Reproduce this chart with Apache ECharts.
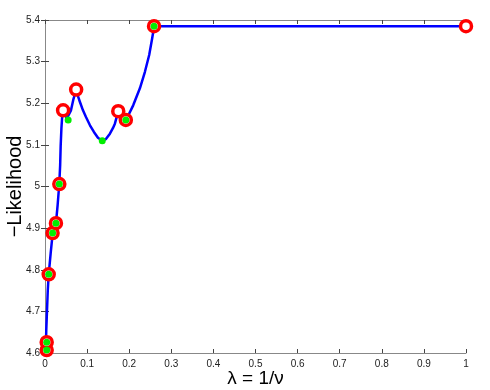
<!DOCTYPE html>
<html><head><meta charset="utf-8">
<script src="https://cdn.jsdelivr.net/npm/echarts@6/dist/echarts.min.js"></script>
<style>html,body{margin:0;padding:0;background:#fff}#c{width:490px;height:390px}</style>
</head><body><div id="c"></div>
<script>
// Curve (lambda, -likelihood)
var curveX = [0.0012,0.0024,0.003,0.0047,0.0066,0.0088,0.0135,0.0183,0.0261,0.030,0.0339,0.036,0.0372,0.039,0.041,0.0434,0.0474,0.0515,0.0558,0.0617,0.0676,0.0743,0.0783,0.083,0.0902,0.0973,0.1068,0.1162,0.1257,0.136,0.1447,0.1542,0.1613,0.166,0.1708,0.174,0.1827,0.1922,0.2095,0.2254,0.2372,0.2475,0.2546,0.2593,1];
var curveY = [4.600,4.626,4.655,4.700,4.751,4.789,4.840,4.888,4.913,4.955,5.006,5.051,5.097,5.140,5.171,5.183,5.174,5.163,5.159,5.183,5.210,5.233,5.217,5.203,5.183,5.167,5.147,5.131,5.117,5.110,5.114,5.127,5.140,5.151,5.169,5.181,5.170,5.159,5.195,5.236,5.275,5.316,5.356,5.385,5.385];
// Red ring markers
var redX = [0.004,0.004,0.0088,0.018,0.026,0.034,0.043,0.074,0.174,0.192,0.259,1];
var redY = [4.607,4.626,4.789,4.888,4.912,5.006,5.183,5.233,5.181,5.160,5.385,5.385];
// Green dot markers
var greenX = [0.004,0.004,0.0088,0.018,0.026,0.034,0.055,0.136,0.192,0.259];
var greenY = [4.607,4.626,4.789,4.888,4.912,5.006,5.160,5.110,5.160,5.385];
// Tick labels
var xTicks = ['0','0.1','0.2','0.3','0.4','0.5','0.6','0.7','0.8','0.9','1'];
var yTicks = ['4.6','4.7','4.8','4.9','5','5.1','5.2','5.3','5.4'];

function zip(a,b){return a.map(function(v,i){return [v,b[i]];});}
var font = 'Liberation Sans';
var axisCol = '#888';
function lbl(arr,min,step){return function(v){var i=Math.round((v-min)/step);return arr[i]!==undefined?arr[i]:'';};}

var chart = echarts.init(document.getElementById('c'));
chart.setOption({
  animation:false,
  backgroundColor:'#fff',
  grid:{left:45,right:24,top:20,bottom:37,containLabel:false,outerBoundsMode:'none'},
  xAxis:[{
    type:'value',min:0,max:1,interval:0.1,position:'bottom',
    name:'λ = 1/ν',nameLocation:'middle',nameGap:16,nameMoveOverlap:false,
    nameTextStyle:{fontFamily:font,fontSize:19,color:'#000'},
    axisLine:{show:true,lineStyle:{color:axisCol,width:1}},
    axisTick:{show:true,inside:true,length:4,lineStyle:{color:'#444'}},
    axisLabel:{formatter:lbl(xTicks,0,0.1),fontFamily:font,fontSize:10,color:'#222',margin:6},
    splitLine:{show:false}
  },{
    type:'value',min:0,max:1,interval:0.1,position:'top',
    axisLine:{show:true,lineStyle:{color:axisCol,width:1}},
    axisTick:{show:true,inside:true,length:4,lineStyle:{color:'#444'}},
    axisLabel:{show:false},splitLine:{show:false}
  }],
  yAxis:[{
    type:'value',min:4.6,max:5.4,interval:0.1,position:'left',
    name:'\u2212Likelihood',nameLocation:'middle',nameGap:20,nameMoveOverlap:false,
    nameTextStyle:{fontFamily:font,fontSize:20,color:'#000'},
    axisLine:{show:true,lineStyle:{color:axisCol,width:1}},
    axisTick:{show:true,inside:true,length:4,lineStyle:{color:'#444'}},
    axisLabel:{formatter:lbl(yTicks,4.6,0.1),fontFamily:font,fontSize:10,color:'#222',margin:5},
    splitLine:{show:false}
  },{
    type:'value',min:4.6,max:5.4,interval:0.1,position:'right',
    axisLine:{show:true,lineStyle:{color:axisCol,width:1}},
    axisTick:{show:true,inside:true,length:4,lineStyle:{color:'#444'}},
    axisLabel:{show:false},splitLine:{show:false}
  }],
  series:[{
    type:'line',data:zip(curveX,curveY),smooth:false,showSymbol:false,
    lineStyle:{color:'#0000ff',width:2.5,join:'round'},z:2
  },{
    type:'scatter',data:zip(redX,redY),symbol:'circle',symbolSize:11,clip:false,
    itemStyle:{color:'#fff',borderColor:'#ff0000',borderWidth:3.5,opacity:1},z:3
  },{
    type:'scatter',data:zip(greenX,greenY),symbol:'circle',symbolSize:7,clip:false,
    itemStyle:{color:'#00ee00',opacity:1},z:4
  }]
});
</script></body></html>
